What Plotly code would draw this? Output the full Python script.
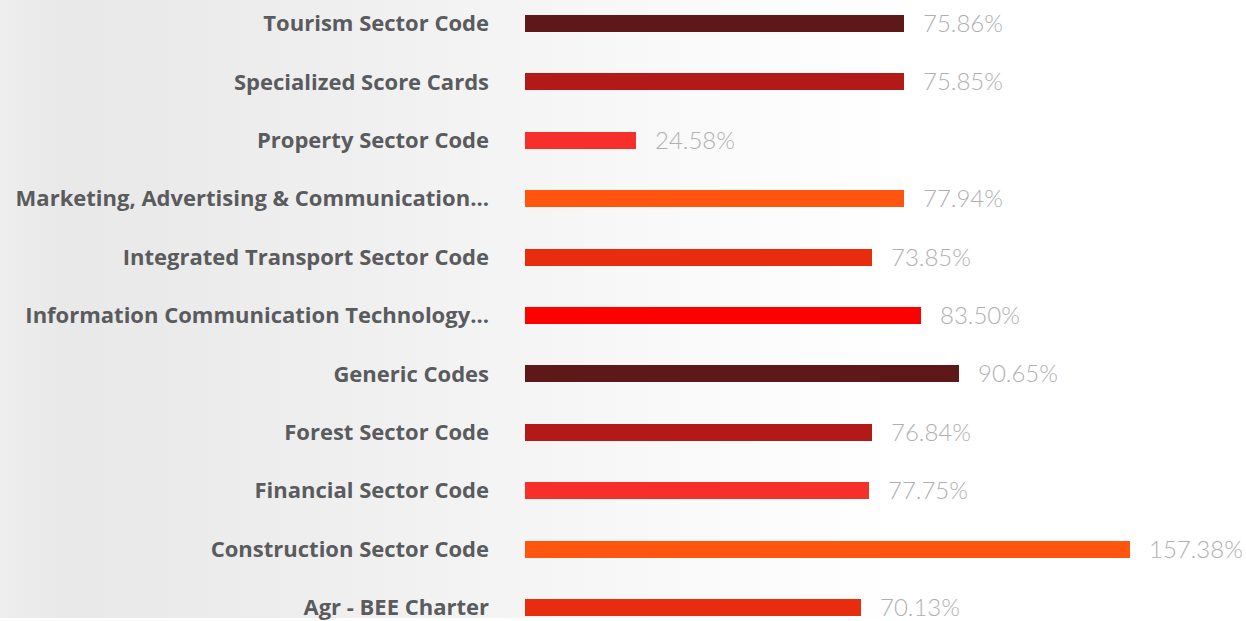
import plotly.graph_objects as go

categories = [
    "Tourism Sector Code",
    "Specialized Score Cards",
    "Property Sector Code",
    "Marketing, Advertising & Communication...",
    "Integrated Transport Sector Code",
    "Information Communication Technology...",
    "Generic Codes",
    "Forest Sector Code",
    "Financial Sector Code",
    "Construction Sector Code",
    "Agr - BEE Charter",
]
# bar lengths as drawn
bar_lengths = [75.8, 75.8, 22.2, 75.8, 69.4, 79.2, 86.8, 69.4, 68.8, 121.0, 67.2]
# percentage labels shown next to the bars
pct_labels = ["75.86%", "75.85%", "24.58%", "77.94%", "73.85%", "83.50%",
              "90.65%", "76.84%", "77.75%", "157.38%", "70.13%"]
bar_colors = ["#5e1818", "#b31919", "#f72f2a", "#ff550f", "#e82c0e", "#ff0000",
              "#5e1818", "#b31919", "#f72f2a", "#ff550f", "#e82c0e"]

W, H = 1246, 621
L = 525
PW = W - L

fig = go.Figure()
fig.add_trace(go.Bar(
    y=categories, x=bar_lengths, orientation="h",
    marker=dict(color=bar_colors, line=dict(width=0)),
    width=0.29, hoverinfo="skip", showlegend=False,
))

annotations = []
for c, v, t in zip(categories, bar_lengths, pct_labels):
    annotations.append(dict(
        x=v, y=c, xref="x", yref="y", text=t, showarrow=False,
        xanchor="left", yanchor="middle", xshift=17, yshift=1,
        font=dict(family="Lato", size=24, color="#b0b0b0", weight=300),
    ))

# background gradient (light grey on the left fading to white)
keys = [(0, 238), (20, 236), (60, 233), (150, 234), (300, 238),
        (500, 244), (700, 250), (900, 255), (1246, 255)]
def gray_at(p):
    for (x0, g0), (x1, g1) in zip(keys[:-1], keys[1:]):
        if x0 <= p <= x1:
            return g0 + (g1 - g0) * (p - x0) / (x1 - x0)
    return 255
shapes = []
step = 8
for p in range(0, W, step):
    g = round(gray_at(p + step / 2))
    b = min(255, g + 1)
    shapes.append(dict(
        type="rect", xref="paper", yref="paper", layer="below",
        x0=(p - L) / PW, x1=(p + step + 1 - L) / PW, y0=0, y1=1,
        fillcolor=f"rgb({g},{g},{b})", line=dict(width=0),
    ))

fig.update_layout(
    width=W, height=H,
    margin=dict(l=L, r=0, t=0, b=0),
    paper_bgcolor="#ffffff", plot_bgcolor="rgba(0,0,0,0)",
    bargap=0,
    xaxis=dict(range=[0, PW / 5.0], visible=False, fixedrange=True),
    yaxis=dict(
        range=[10.179, -0.4003], showgrid=False, zeroline=False, showline=False,
        ticks="", ticklabelstandoff=35, fixedrange=True,
        tickfont=dict(family="Open Sans", size=22, color="#5a5b5d", weight=700),
    ),
    shapes=shapes, annotations=annotations,
)

fig.write_html(
    "out.html",
    config={"displayModeBar": False},
    post_script="document.body.style.margin='0';document.body.style.overflow='hidden';",
)
